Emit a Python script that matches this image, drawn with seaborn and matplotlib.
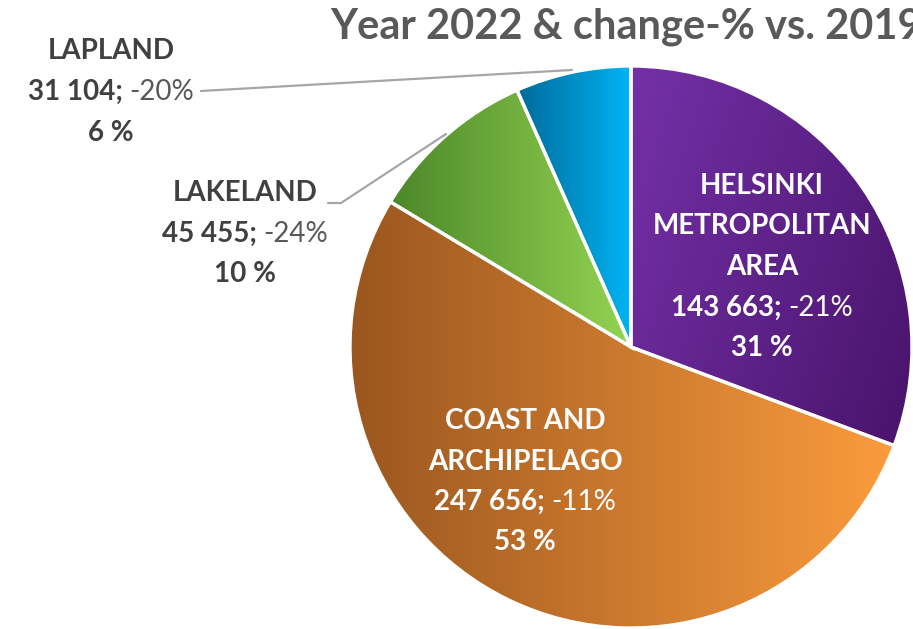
import numpy as np
import matplotlib
matplotlib.use("Agg")
import matplotlib.pyplot as plt
import seaborn as sns
from matplotlib.colors import LinearSegmentedColormap

# ---- data ----
regions = ["HELSINKI\nMETROPOLITAN\nAREA", "COAST AND\nARCHIPELAGO", "LAKELAND", "LAPLAND"]
visitors = [143663, 247656, 45455, 31104]
value_text = ["143 663;", "247 656;", "45 455;", "31 104;"]
change_text = ["-21%", "-11%", "-24%", "-20%"]
share_text = ["31 %", "53 %", "10 %", "6 %"]
title = "Year 2022 & change-% vs. 2019"

grad_left = ["#7431A8", "#9A561F", "#4C8729", "#006A9A"]
grad_right = ["#48136A", "#FB9C3D", "#94D452", "#00B4F4"]

sns.set_theme(style="white")
FONT = ["Lato", "DejaVu Sans"]
plt.rcParams["font.family"] = FONT

W, H = 913, 629
fig = plt.figure(figsize=(W / 100, H / 100), dpi=100)
ax = fig.add_axes([0, 0, 1, 1])

cx, cy_img, R = 631, 347, 281
center = (cx, H - cy_img)

wedges, _ = ax.pie(visitors, center=center, radius=R, startangle=90,
                   counterclock=False,
                   wedgeprops=dict(edgecolor="white", linewidth=2.4))
ax.set_xlim(0, W)
ax.set_ylim(0, H)
ax.set_aspect("equal")
ax.set_axis_off()

# gradient fills clipped to each wedge
for i, w in enumerate(wedges):
    w.set_facecolor("none")
    verts = w.get_path().vertices
    x0, x1 = verts[:, 0].min(), verts[:, 0].max()
    y0, y1 = verts[:, 1].min(), verts[:, 1].max()
    cmap = LinearSegmentedColormap.from_list(f"g{i}", [grad_left[i], grad_right[i]])
    nx, ny = 256, 256
    gx = np.linspace(0, 1, nx)[None, :]
    gy = np.linspace(0, 1, ny)[:, None]
    if i == 0:
        img = 0.75 * gx + 0.35 * (1 - gy)
        img = img / img.max()
    else:
        img = np.repeat(gx, ny, axis=0)
    im = ax.imshow(img, cmap=cmap, extent=(x0, x1, y0, y1), origin="lower",
                   aspect="auto", zorder=1, interpolation="bilinear")
    im.set_clip_path(w)
    w.set_zorder(2)

ax.set_xlim(0, W)
ax.set_ylim(0, H)

# title
ax.text(330, H - 27, title, fontsize=30, fontweight="bold", color="#595959",
        ha="left", va="center", family=FONT)

fig.canvas.draw()
renderer = fig.canvas.get_renderer()


def mixed_line(xc, yimg, bold, light, color, lcolor, size):
    y = H - yimg
    t1 = ax.text(0, y, bold + " ", fontsize=size, fontweight="bold", color=color,
                 ha="left", va="center", zorder=5)
    t2 = ax.text(0, y, light, fontsize=size, fontweight="normal", color=lcolor,
                 ha="left", va="center", zorder=5)
    w1 = t1.get_window_extent(renderer).width
    w2 = t2.get_window_extent(renderer).width
    start = xc - (w1 + w2) / 2
    t1.set_x(start)
    t2.set_x(start + w1)


def label(i, xc, ytop, color, lcolor, size, gap):
    lines = regions[i].split("\n")
    y = ytop
    for ln in lines:
        ax.text(xc, H - y, ln, fontsize=size, fontweight="bold", color=color,
                ha="center", va="center", zorder=5)
        y += gap
    mixed_line(xc, y, value_text[i], change_text[i], color, lcolor, size)
    y += gap
    ax.text(xc, H - y, share_text[i], fontsize=size, fontweight="bold", color=color,
            ha="center", va="center", zorder=5)


fs = 20
label(0, 762, 186, "white", "white", fs, 40.5)
label(1, 525, 421, "white", "white", fs, 40.5)
label(2, 245, 193, "#404040", "#595959", fs, 40.5)
label(3, 111, 51, "#404040", "#595959", fs, 41)

# leader lines
ax.plot([201, 572], [H - 91, H - 70], color="#A6A6A6", lw=1.6, zorder=4)
ax.plot([328, 341, 446], [H - 203, H - 203, H - 134], color="#A6A6A6", lw=1.6, zorder=4)

fig.savefig("out.png", dpi=100)
